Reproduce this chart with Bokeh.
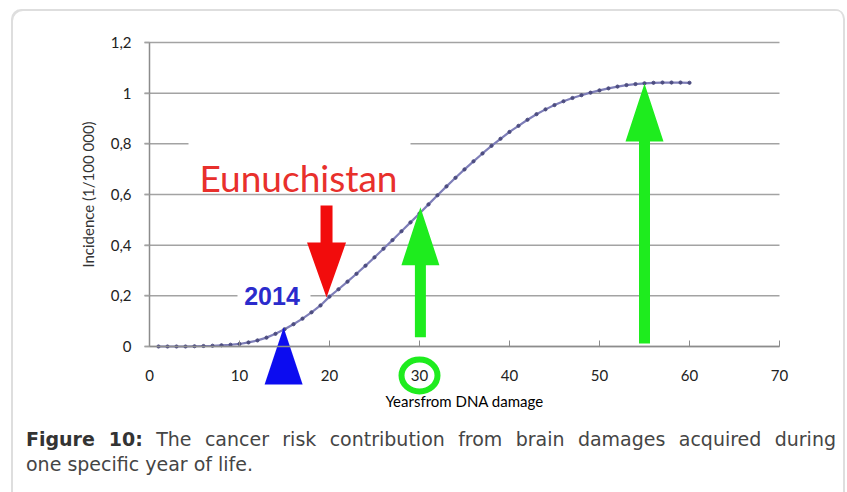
from bokeh.plotting import figure
from bokeh.models import FixedTicker, Div
from bokeh.layouts import column
from bokeh.embed import file_html
from bokeh.resources import INLINE
from bokeh.core.properties import value

# ---------------- data ----------------
years = list(range(1, 61))
incidence = [
    0.000, 0.000, 0.000, 0.000, 0.001, 0.002, 0.003, 0.005, 0.007, 0.010,
    0.016, 0.024, 0.035, 0.050, 0.068, 0.088, 0.110, 0.135, 0.162, 0.197,
    0.226, 0.256, 0.287, 0.319, 0.352, 0.386, 0.420, 0.455, 0.490, 0.525,
    0.561, 0.597, 0.632, 0.666, 0.699, 0.731, 0.762, 0.792, 0.820, 0.847,
    0.871, 0.895, 0.917, 0.936, 0.953, 0.968, 0.981, 0.992, 1.002, 1.011,
    1.019, 1.026, 1.032, 1.036, 1.039, 1.041, 1.042, 1.042, 1.042, 1.041,
]
x_ticks = [0, 10, 20, 30, 40, 50, 60, 70]
y_ticks = [0, 0.2, 0.4, 0.6, 0.8, 1.0, 1.2]
y_tick_labels = ["0", "0,2", "0,4", "0,6", "0,8", "1", "1,2"]

# pointers drawn on the chart: (year, value at the tip)
up_arrow_years = [30.1, 55.0]
up_arrow_tips = [0.55, 1.038]
down_arrow_years = [19.67]
down_arrow_tips = [0.193]
triangle_years = [14.9]
triangle_tips = [0.075]
ring_years = [30]

x_label = "Yearsfrom DNA damage"
y_label = "Incidence (1/100 000)"
country_label = "Eunuchistan"
year_label = "2014"
caption_bold = "Figure 10:"
caption_line1 = "The cancer risk contribution from brain damages acquired during"
caption_line2 = "one specific year of life."

# ---------------- geometry (pixels) ----------------
PXX = 9.0                 # pixels per year
PXY = 304 / 1.2           # pixels per unit of incidence
ORIGIN_X, ORIGIN_Y = 149, 346   # page position of (0, 0)
FIG_X, FIG_Y = 11, 9            # page position of the figure (inside the frame box)
FR_L, FR_R, FR_T, FR_B = 60, 800, 30, 420   # page box of the plotting frame


def dx(px):
    return px / PXX


def dy(px):
    return px / PXY


x_start = dx(FR_L - ORIGIN_X)
x_end = dx(FR_R - ORIGIN_X)
y_start = dy(ORIGIN_Y - FR_B)
y_end = dy(ORIGIN_Y - FR_T)

GREEN = "#1eec1e"
RED = "#f20c0c"
BLUE = "#0c0cf0"
GRID = "#a3a3a3"
AXIS = "#8c8c8c"

p = figure(
    frame_width=FR_R - FR_L, frame_height=FR_B - FR_T,
    min_border_left=FR_L - FIG_X, min_border_right=845 - FR_R,
    min_border_top=FR_T - FIG_Y, min_border_bottom=0,
    x_range=(x_start, x_end), y_range=(y_start, y_end),
    output_backend="svg", toolbar_location=None,
)
p.border_fill_color = None
p.background_fill_color = None
p.outline_line_color = None
p.xgrid.visible = False
p.ygrid.visible = False

# horizontal grid lines at the y ticks, spanning the axis extent
p.segment(x0=[dx(-5)] * len(y_ticks), y0=y_ticks, x1=[x_ticks[-1]] * len(y_ticks), y1=y_ticks,
          line_color=GRID, line_width=1.5)

# x axis at zero
p.xaxis.fixed_location = 0
p.xaxis.bounds = (x_ticks[0], x_ticks[-1])
p.xaxis.ticker = FixedTicker(ticks=x_ticks)
p.xaxis.axis_line_color = AXIS
p.xaxis.axis_line_width = 1.5
p.xaxis.major_tick_in = 6
p.xaxis.major_tick_out = 0
p.xaxis.major_tick_line_color = AXIS
p.xaxis.minor_tick_line_color = None
p.xaxis.major_label_standoff = 23
p.xaxis.major_label_text_font = "Lato"
p.xaxis.major_label_text_font_size = "15px"
p.xaxis.major_label_text_color = "#222222"
p.xaxis.axis_label = x_label
p.xaxis.axis_label_text_font = "Lato"
p.xaxis.axis_label_text_font_size = "15px"
p.xaxis.axis_label_text_font_style = "normal"
p.xaxis.axis_label_text_color = "#000000"
p.xaxis.axis_label_standoff = 8

# y axis at zero
p.yaxis.fixed_location = 0
p.yaxis.bounds = (y_ticks[0], y_ticks[-1])
p.yaxis.ticker = FixedTicker(ticks=y_ticks)
p.yaxis.major_label_overrides = {t: l for t, l in zip(y_ticks, y_tick_labels)}
p.yaxis.axis_line_color = AXIS
p.yaxis.axis_line_width = 1.5
p.yaxis.major_tick_in = 0
p.yaxis.major_tick_out = 5
p.yaxis.major_tick_line_color = GRID
p.yaxis.major_tick_line_width = 1.5
p.yaxis.minor_tick_line_color = None
p.yaxis.major_label_standoff = 13
p.yaxis.major_label_text_font = "Lato"
p.yaxis.major_label_text_font_size = "15px"
p.yaxis.major_label_text_color = "#222222"
p.yaxis.axis_label = y_label
p.yaxis.axis_label_text_font = "Lato"
p.yaxis.axis_label_text_font_size = "15px"
p.yaxis.axis_label_text_font_style = "normal"
p.yaxis.axis_label_text_color = "#333333"
p.yaxis.axis_label_standoff = 11

# white boxes behind the two labels (they hide the grid lines)
p.quad(left=[dx(188 - ORIGIN_X)], right=[dx(410 - ORIGIN_X)],
       bottom=[dy(ORIGIN_Y - 188)], top=[dy(ORIGIN_Y - 139)],
       fill_color="white", line_color=None)
p.quad(left=[dx(237 - ORIGIN_X)], right=[dx(310 - ORIGIN_X)],
       bottom=[dy(ORIGIN_Y - 300)], top=[dy(ORIGIN_Y - 272)],
       fill_color="white", line_color=None)

# the curve
p.line(years, incidence, line_color="#7e7eb8", line_width=2.2)
p.scatter(years, incidence, size=3.2, color="#4d4d80")


def block_arrow(xc, tip, head_len, head_w, shaft_w, total_len, up=True):
    s = 1 if up else -1
    hx = dx(head_w / 2)
    sx = dx(shaft_w / 2)
    base = tip - s * dy(head_len)
    end = tip - s * dy(total_len)
    if shaft_w <= 0:
        return [xc, xc + hx, xc - hx], [tip, base, base]
    xs = [xc, xc + hx, xc + sx, xc + sx, xc - sx, xc - sx, xc - hx]
    ys = [tip, base, base, end, end, base, base]
    return xs, ys


# green up arrows
g_total = [130, 260]
gx, gy = [], []
for xc, tip, tl in zip(up_arrow_years, up_arrow_tips, g_total):
    xs, ys = block_arrow(xc, tip, 58, 38, 11, tl, up=True)
    gx.append(xs)
    gy.append(ys)
p.patches(gx, gy, fill_color=GREEN, line_color=None)

# red down arrow
rx, ry = [], []
for xc, tip in zip(down_arrow_years, down_arrow_tips):
    xs, ys = block_arrow(xc, tip, 55, 39, 12, 92, up=False)
    rx.append(xs)
    ry.append(ys)
p.patches(rx, ry, fill_color=RED, line_color=None)

# blue triangle
bx, by = [], []
for xc, tip in zip(triangle_years, triangle_tips):
    xs, ys = block_arrow(xc, tip, 57, 38, 0, 57, up=True)
    bx.append(xs)
    by.append(ys)
p.patches(bx, by, fill_color=BLUE, line_color=None)

# green ring around the "30" tick label
p.ellipse(x=ring_years, y=[dy(-29)] * len(ring_years), width=36, height=32,
          width_units="screen", height_units="screen",
          fill_color=None, line_color=GREEN, line_width=6)

# labels
p.text(x=[dx(298 - ORIGIN_X)], y=[dy(ORIGIN_Y - 177)], text=[country_label],
       text_font=value("Lato"), text_font_size="37px", text_color="#e8302c",
       text_align="center", text_baseline="alphabetic")
p.text(x=[dx(271.5 - ORIGIN_X)], y=[dy(ORIGIN_Y - 295)], text=[year_label],
       text_font=value("Liberation Sans"), text_font_size="25px", text_font_style="bold",
       text_color="#2b2bcc", text_align="center", text_baseline="alphabetic")

cap_html = (
    '<div style="width:810px;font-family:\'DejaVu Sans\';font-size:19px;line-height:25px;color:#454545;">'
    '<div style="width:810px;text-align:justify;text-align-last:justify;">'
    f'<b style="color:#333">{caption_bold}</b> {caption_line1}</div>'
    f'<div>{caption_line2}</div></div>'
)
cap = Div(text=cap_html, width=810, height=65, margin=(7, 0, 0, 15))

layout = column(
    p, cap, spacing=0, margin=(FIG_Y, 0, 0, FIG_X),
    styles={
        "border-radius": "10px 10px 0 0",
        "box-shadow": "inset 2px 2px 0 0 #dedede, inset -2px 0 0 0 #dedede",
    },
)

with open("out.html", "w") as f:
    f.write(file_html(layout, INLINE))
